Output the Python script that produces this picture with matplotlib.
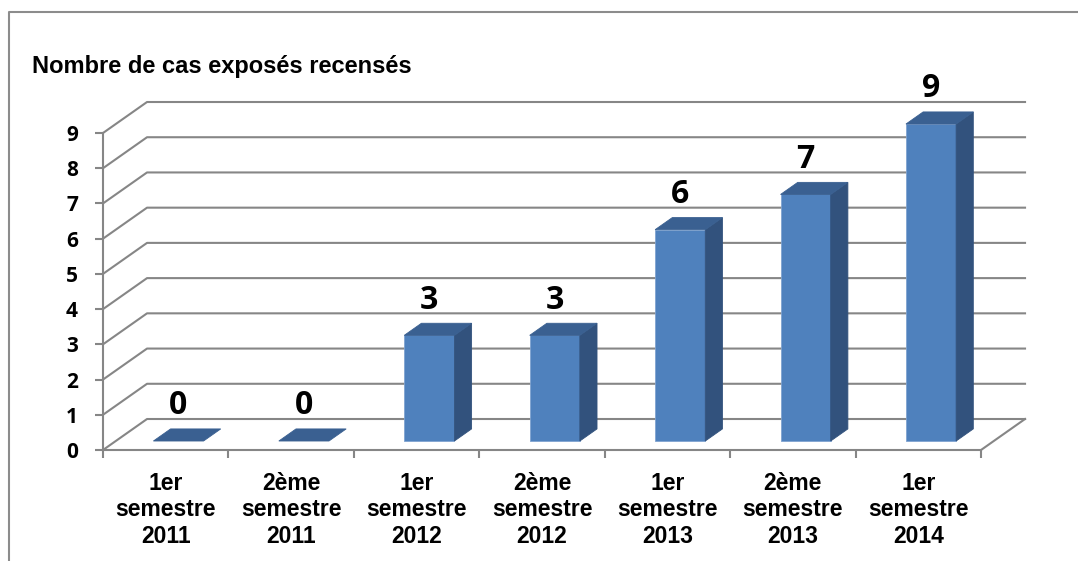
import matplotlib
matplotlib.use("Agg")
import matplotlib.pyplot as plt
from matplotlib.patches import Polygon
from matplotlib.lines import Line2D

# ---------------- data ----------------
categories = ["1er\nsemestre\n2011", "2ème\nsemestre\n2011",
              "1er\nsemestre\n2012", "2ème\nsemestre\n2012",
              "1er\nsemestre\n2013", "2ème\nsemestre\n2013",
              "1er\nsemestre\n2014"]
values = [0, 0, 3, 3, 6, 7, 9]
y_ticks = list(range(0, 10))
title = "Nombre de cas exposés recensés"

# ---------------- layout ----------------
W, H = 1078, 561
fig = plt.figure(figsize=(W / 100, H / 100), dpi=100)
ax = fig.add_axes([103 / W, (H - 450) / H, (981 - 103) / W, (450 - 133) / H])
n = len(categories)
ax.set_xlim(0, n)
ax.set_ylim(0, max(y_ticks))

DX = 0.351   # depth offset in category units
DY = 0.88    # depth offset in value units
D0, D1 = 0.29, 0.68   # bar depth range
BW = 0.4              # bar width (category fraction)

num_font = "Open Sans"


def proj(x, v, d):
    return (x + d * DX, v + d * DY)


grid_color = "#868686"
lw = 1.5

# gridlines (side wall diagonals + back wall horizontals)
for v in y_ticks:
    pts = [proj(0, v, 0), proj(0, v, 1), proj(n, v, 1)]
    xs, ys = zip(*pts)
    ax.add_line(Line2D(xs, ys, color=grid_color, lw=lw, clip_on=False, zorder=1))
# floor right edge
pts = [proj(n, 0, 0), proj(n, 0, 1)]
xs, ys = zip(*pts)
ax.add_line(Line2D(xs, ys, color=grid_color, lw=lw, clip_on=False, zorder=1))

front_c = "#4F81BD"
side_c = "#32527D"
top_c = "#3A6091"
edge_c = "#7FA3D0"

for i, v in enumerate(values):
    x0 = i + 0.5 - BW / 2
    x1 = i + 0.5 + BW / 2
    if v > 0:
        front = [proj(x0, 0, D0), proj(x1, 0, D0), proj(x1, v, D0), proj(x0, v, D0)]
        side = [proj(x1, 0, D0), proj(x1, 0, D1), proj(x1, v, D1), proj(x1, v, D0)]
        ax.add_patch(Polygon(front, closed=True, facecolor=front_c, edgecolor=edge_c,
                             lw=0.6, clip_on=False, zorder=3))
        ax.add_patch(Polygon(side, closed=True, facecolor=side_c, edgecolor=side_c,
                             lw=0.6, clip_on=False, zorder=3))
    top = [proj(x0, v, D0), proj(x1, v, D0), proj(x1, v, D1), proj(x0, v, D1)]
    ax.add_patch(Polygon(top, closed=True, facecolor=top_c, edgecolor=top_c,
                         lw=0.6, clip_on=False, zorder=3))
    lx, ly = proj(i + 0.5, v, D0)
    ax.text(lx, v + D1 * DY + 0.66, str(v), ha="center", va="center",
            fontsize=23, fontweight="bold", family=num_font, color="black",
            zorder=5, clip_on=False)

# axes styling
for s in ["top", "right"]:
    ax.spines[s].set_visible(False)
for s in ["left", "bottom"]:
    ax.spines[s].set_color(grid_color)
    ax.spines[s].set_linewidth(lw)
    ax.spines[s].set_zorder(2)
ax.patch.set_visible(False)

ax.set_yticks(y_ticks)
ax.set_yticklabels([str(t) for t in y_ticks], fontsize=15, fontweight="bold", family=num_font)
ax.tick_params(axis="y", length=6, width=lw, color=grid_color, pad=12)

ax.set_xticks(range(n + 1))
ax.set_xticklabels([])
ax.tick_params(axis="x", which="major", length=6, width=lw, color=grid_color, direction="out")
ax.set_xticks([i + 0.5 for i in range(n)], minor=True)
ax.set_xticklabels(categories, minor=True, fontsize=16.5, fontweight="bold",
                   family="Liberation Sans", linespacing=1.18)
ax.tick_params(axis="x", which="minor", length=0, pad=16)

# title
fig.text(32 / W, 1 - 67 / H, title, fontsize=17, fontweight="bold",
         family="Liberation Sans", va="center", ha="left")

# outer chart border (left and top visible)
fig.add_artist(Line2D([9 / W, 9 / W, 1.0], [0.0, 1 - 12 / H, 1 - 12 / H],
                      transform=fig.transFigure, color="#8C8C8C", lw=1.5))

fig.savefig("out.png", dpi=100)
